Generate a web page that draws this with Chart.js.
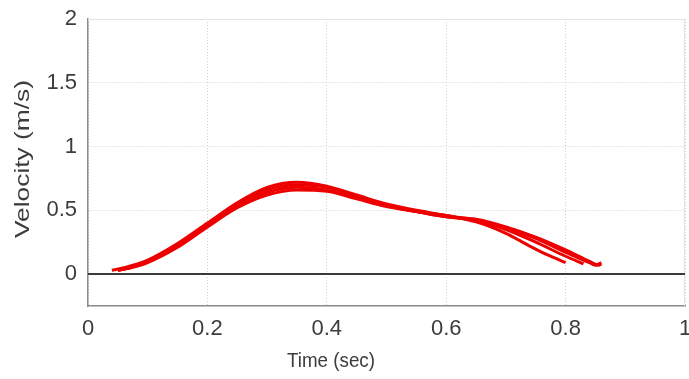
<!DOCTYPE html>
<html>
<head>
<meta charset="utf-8">
<script src="https://cdn.jsdelivr.net/npm/chart.js@4"></script>
<style>
  html, body { margin: 0; padding: 0; background: #fff; }
  #wrap { width: 689px; height: 379px; position: relative; }
</style>
</head>
<body>
<div id="wrap"><canvas id="chart"></canvas></div>
<script>
/* ── data: four velocity trials (time in s, velocity in m/s) ── */
const T_A = [0.04, 0.06, 0.10, 0.15, 0.20, 0.25, 0.30, 0.35, 0.40, 0.45, 0.50, 0.55, 0.60, 0.65, 0.70, 0.74, 0.77, 0.80];
const V_A = [0.03, 0.05, 0.11, 0.24, 0.40, 0.56, 0.68, 0.72, 0.69, 0.62, 0.55, 0.50, 0.46, 0.41, 0.32, 0.22, 0.15, 0.09];

const T_B = [0.05, 0.07, 0.10, 0.15, 0.20, 0.25, 0.30, 0.35, 0.40, 0.45, 0.50, 0.55, 0.60, 0.65, 0.70, 0.75, 0.80, 0.83];
const V_B = [0.03, 0.05, 0.10, 0.23, 0.39, 0.55, 0.66, 0.70, 0.68, 0.61, 0.54, 0.49, 0.46, 0.42, 0.35, 0.25, 0.14, 0.08];

const T_C = [0.05, 0.07, 0.10, 0.15, 0.20, 0.25, 0.30, 0.35, 0.40, 0.45, 0.50, 0.55, 0.60, 0.65, 0.70, 0.75, 0.80, 0.84, 0.85, 0.86];
const V_C = [0.03, 0.05, 0.10, 0.22, 0.38, 0.54, 0.64, 0.68, 0.66, 0.60, 0.54, 0.49, 0.45, 0.42, 0.36, 0.28, 0.17, 0.09, 0.07, 0.09];

const T_D = [0.05, 0.08, 0.10, 0.15, 0.20, 0.25, 0.30, 0.35, 0.40, 0.45, 0.50, 0.55, 0.60, 0.65, 0.70, 0.75, 0.80, 0.84, 0.855, 0.86];
const V_D = [0.03, 0.06, 0.09, 0.21, 0.37, 0.52, 0.62, 0.66, 0.65, 0.59, 0.53, 0.49, 0.45, 0.43, 0.37, 0.29, 0.19, 0.10, 0.07, 0.08];

const ZERO_T = [0, 1];
const ZERO_V = [0, 0];

const X_TICKS = [0, 0.2, 0.4, 0.6, 0.8, 1];
const Y_TICKS = [0, 0.5, 1, 1.5, 2];

const X_TITLE = 'Time (sec)';
const Y_TITLE = 'Velocity (m/s)';

const FONT = '"Liberation Sans", Arial, Helvetica, sans-serif';
const RED  = 'rgb(236,0,0)';
const INK  = '#3c3c3c';

const pts = (ts, vs) => ts.map((t, i) => ({ x: t, y: vs[i] }));

function trial(ts, vs) {
  return {
    data: pts(ts, vs),
    borderColor: RED,
    borderWidth: 3,
    pointRadius: 0,
    fill: false,
    showLine: true,
    cubicInterpolationMode: 'monotone',
  };
}

// draw text stretched to a given length along its direction
function fitText(ctx, text, x, y, len) {
  const w = ctx.measureText(text).width;
  ctx.save();
  ctx.translate(x, y);
  ctx.scale(len / w, 1);
  ctx.fillText(text, 0, 0);
  ctx.restore();
}

/* light box + axis titles at fixed spots */
const frame = {
  id: 'frame',
  beforeDatasetsDraw(chart) {
    const { ctx, chartArea: a } = chart;
    ctx.save();
    ctx.strokeStyle = '#e2e2e2';
    ctx.lineWidth = 1;
    ctx.beginPath();
    ctx.moveTo(a.left, a.top + 0.5);
    ctx.lineTo(a.right - 0.5, a.top + 0.5);
    ctx.lineTo(a.right - 0.5, a.bottom);
    ctx.stroke();
    ctx.restore();
  },
  afterDraw(chart) {
    const { ctx } = chart;
    ctx.save();
    ctx.fillStyle = INK;
    ctx.font = '21px ' + FONT;
    ctx.textAlign = 'center';
    ctx.textBaseline = 'alphabetic';
    fitText(ctx, X_TITLE, 331, 367, 88);
    ctx.translate(23, 159);
    ctx.rotate(-Math.PI / 2);
    ctx.textBaseline = 'middle';
    fitText(ctx, Y_TITLE, 0, 0, 158);
    ctx.restore();
  },
};

new Chart(document.getElementById('chart'), {
  type: 'scatter',
  data: {
    datasets: [
      {
        data: pts(ZERO_T, ZERO_V),
        borderColor: '#3a3a3a',
        borderWidth: 2,
        pointRadius: 0,
        showLine: true,
        order: 5,
      },
      trial(T_D, V_D),
      trial(T_C, V_C),
      trial(T_B, V_B),
      trial(T_A, V_A),
    ],
  },
  options: {
    responsive: true,
    maintainAspectRatio: false,
    animation: false,
    layout: { padding: { left: 0, right: 4, top: 19, bottom: 0 } },
    plugins: { legend: { display: false }, tooltip: { enabled: false } },
    scales: {
      x: {
        type: 'linear',
        min: 0,
        max: 1,
        afterBuildTicks: s => { s.ticks = X_TICKS.map(v => ({ value: v })); },
        afterFit: s => { s.height = 73; s.paddingLeft = 0; s.paddingRight = 0; },
        ticks: {
          color: INK,
          font: { family: FONT, size: 22 },
          padding: 10,
          maxRotation: 0,
          autoSkip: false,
          callback: v => String(v),
        },
        grid: { color: '#cfcfcf', lineWidth: 1, drawTicks: false },
        border: { color: '#8a8a8a', width: 1.5, dash: [1, 2] },
      },
      y: {
        type: 'linear',
        min: -0.25,
        max: 2,
        afterBuildTicks: s => { s.ticks = Y_TICKS.map(v => ({ value: v })); },
        afterFit: s => { s.width = 88; s.paddingTop = 0; s.paddingBottom = 0; },
        ticks: {
          color: INK,
          font: { family: FONT, size: 22 },
          padding: 11,
          autoSkip: false,
          callback: v => String(v),
        },
        grid: { color: '#cfcfcf', lineWidth: 1, drawTicks: false },
        border: { color: '#8a8a8a', width: 1.5, dash: [1, 2] },
      },
    },
  },
  plugins: [frame],
});
</script>
</body>
</html>
